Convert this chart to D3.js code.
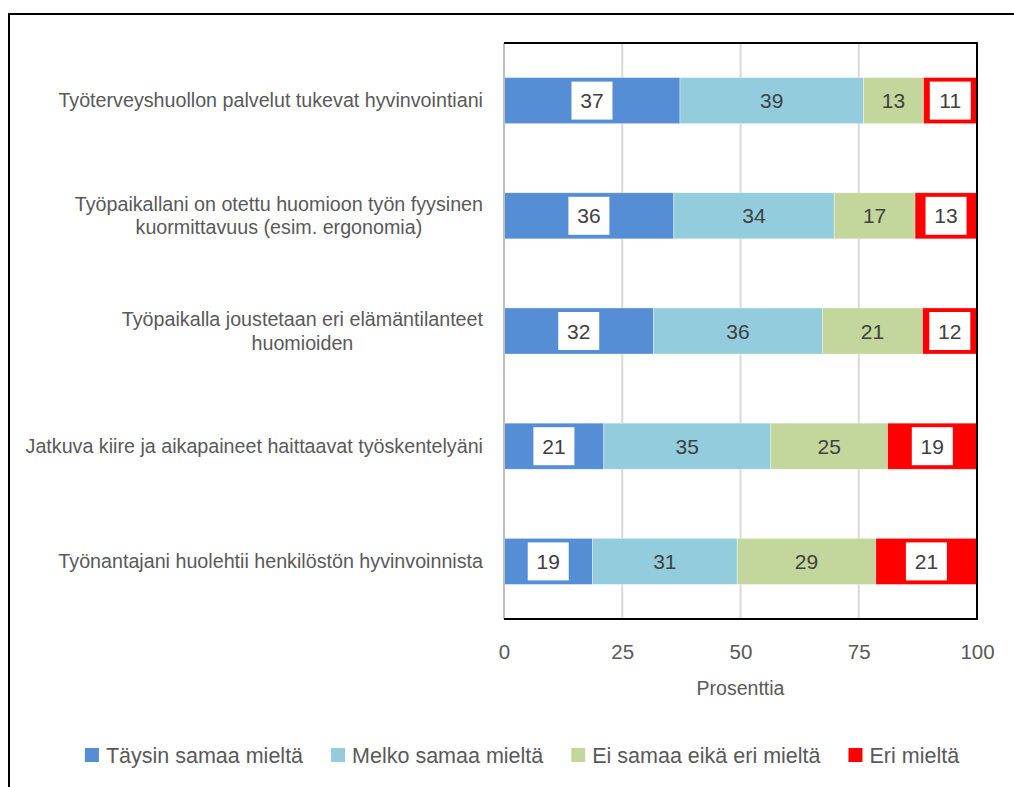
<!DOCTYPE html>
<html>
<head>
<meta charset="utf-8">
<script src="https://cdn.jsdelivr.net/npm/d3@7"></script>
<style>
  body { margin: 0; background: #fff; }
  text { font-family: "Liberation Sans", Arial, sans-serif; }
</style>
</head>
<body>
<script>
// kategoriat (rivinvaihto = \n)
const categories = [
  "Työterveyshuollon palvelut tukevat hyvinvointiani",
  "Työpaikallani on otettu huomioon työn fyysinen\nkuormittavuus (esim. ergonomia)",
  "Työpaikalla joustetaan eri elämäntilanteet\nhuomioiden",
  "Jatkuva kiire ja aikapaineet haittaavat työskentelyäni",
  "Työnantajani huolehtii henkilöstön hyvinvoinnista"
];

// sarjat
const seriesNames = ["Täysin samaa mieltä", "Melko samaa mieltä", "Ei samaa eikä eri mieltä", "Eri mieltä"];
const taysin = [37.2, 35.9, 31.6, 21.1, 18.7];
const melko  = [38.8, 33.9, 35.7, 35.3, 30.6];
const eiEi   = [12.7, 17.1, 21.2, 24.7, 29.3];
const eri    = [11.3, 13.1, 11.6, 18.9, 21.4];
const xTicks = [0, 25, 50, 75, 100];
const colors = ["#558ED5", "#93CDDD", "#C3D69B", "#FF0000"];

const width = 1014, height = 787;
const margin = { top: 43, right: 37, bottom: 168, left: 504 };

const svg = d3.select("body").append("svg")
  .attr("width", width)
  .attr("height", height);

// ulkokehys
svg.append("rect")
  .attr("x", 9).attr("y", 14)
  .attr("width", width + 20).attr("height", height + 20)
  .attr("fill", "none").attr("stroke", "#000").attr("stroke-width", 2);

const x = d3.scaleLinear().domain([0, 100]).range([margin.left, width - margin.right]);
const y = d3.scaleBand().domain(categories).range([margin.top, height - margin.bottom])
  .paddingInner(0.6).paddingOuter(0.3);

// taulukko pinottavaksi
const table = categories.map((c, i) => ({
  cat: c, s0: taysin[i], s1: melko[i], s2: eiEi[i], s3: eri[i]
}));
const stack = d3.stack().keys(["s0", "s1", "s2", "s3"])(table);

// ruudukko
svg.append("g")
  .selectAll("line")
  .data(xTicks.slice(1, -1))
  .enter().append("line")
  .attr("x1", d => x(d)).attr("x2", d => x(d))
  .attr("y1", margin.top).attr("y2", height - margin.bottom)
  .attr("stroke", "#d9d9d9").attr("stroke-width", 2);

// palkit
const layer = svg.append("g").selectAll("g")
  .data(stack)
  .enter().append("g")
  .attr("fill", (d, i) => colors[i]);

layer.selectAll("rect")
  .data(d => d)
  .enter().append("rect")
  .attr("x", d => x(d[0]))
  .attr("width", d => x(Math.min(d[1], 100)) - x(d[0]))
  .attr("y", d => y(d.data.cat))
  .attr("height", y.bandwidth())
  .attr("stroke", "#fff").attr("stroke-opacity", 0.5).attr("stroke-width", 0.7);

// arvot
const fmt = d3.format(".0f");
stack.forEach((s, i) => {
  const g = svg.append("g");
  const boxed = (i === 0 || i === 3);
  s.forEach(d => {
    const cx = (x(d[0]) + x(Math.min(d[1], 100))) / 2;
    const cy = y(d.data.cat) + y.bandwidth() / 2;
    if (boxed) {
      g.append("rect")
        .attr("x", cx - 20.5).attr("y", cy - 19)
        .attr("width", 41).attr("height", 38)
        .attr("fill", "#fff");
    }
    g.append("text")
      .attr("x", cx).attr("y", cy)
      .attr("dy", "0.36em")
      .attr("text-anchor", "middle")
      .attr("fill", "#404040")
      .style("font-size", "21px")
      .text(fmt(d[1] - d[0]));
  });
});

// akselin viiva ja kehys
svg.append("line")
  .attr("x1", x(0)).attr("x2", x(0))
  .attr("y1", margin.top).attr("y2", height - margin.bottom)
  .attr("stroke", "#bfbfbf").attr("stroke-width", 2);
svg.append("path")
  .attr("d", `M${x(0)},${margin.top}H${x(100)}V${height - margin.bottom}H${x(0)}`)
  .attr("fill", "none").attr("stroke", "#000").attr("stroke-width", 2);

// x-akseli
const xAxis = svg.append("g")
  .attr("transform", `translate(0,${height - margin.bottom})`)
  .call(d3.axisBottom(x).tickValues(xTicks).tickSize(0).tickPadding(25));
xAxis.select(".domain").remove();
xAxis.selectAll("text")
  .attr("fill", "#595959")
  .style("font-size", "20.5px")
  .style("font-family", "'Liberation Sans', Arial, sans-serif");

svg.append("text")
  .attr("x", (x(0) + x(100)) / 2)
  .attr("y", 695)
  .attr("text-anchor", "middle")
  .attr("fill", "#595959")
  .style("font-size", "19.5px")
  .text("Prosenttia");

// kategorioiden nimet
const labelRight = 483;
categories.forEach(c => {
  const lines = c.split("\n");
  const cy = y(c) + y.bandwidth() / 2;
  const t = svg.append("text")
    .attr("fill", "#595959")
    .style("font-size", "19.7px");
  const lh = 23.5;
  lines.forEach((l, k) => {
    t.append("tspan")
      .attr("y", cy + (k - (lines.length - 1) / 2) * lh)
      .attr("dy", "0.35em")
      .text(l);
  });
  const w = d3.max(t.selectAll("tspan").nodes(), n => n.getComputedTextLength());
  t.selectAll("tspan")
    .attr("x", labelRight - w / 2)
    .attr("text-anchor", "middle");
});

// selite
const legend = svg.append("g");
let lx = 0;
seriesNames.forEach((n, i) => {
  const item = legend.append("g").attr("transform", `translate(${lx},0)`);
  item.append("rect")
    .attr("x", 0).attr("y", -7)
    .attr("width", 14).attr("height", 14)
    .attr("fill", colors[i]);
  const t = item.append("text")
    .attr("x", 21).attr("dy", "0.35em")
    .attr("fill", "#595959")
    .style("font-size", "21.5px")
    .text(n);
  lx += 21 + t.node().getComputedTextLength() + 28;
});
const lw = lx - 28;
legend.attr("transform", `translate(${522 - lw / 2},755)`);
</script>
</body>
</html>
